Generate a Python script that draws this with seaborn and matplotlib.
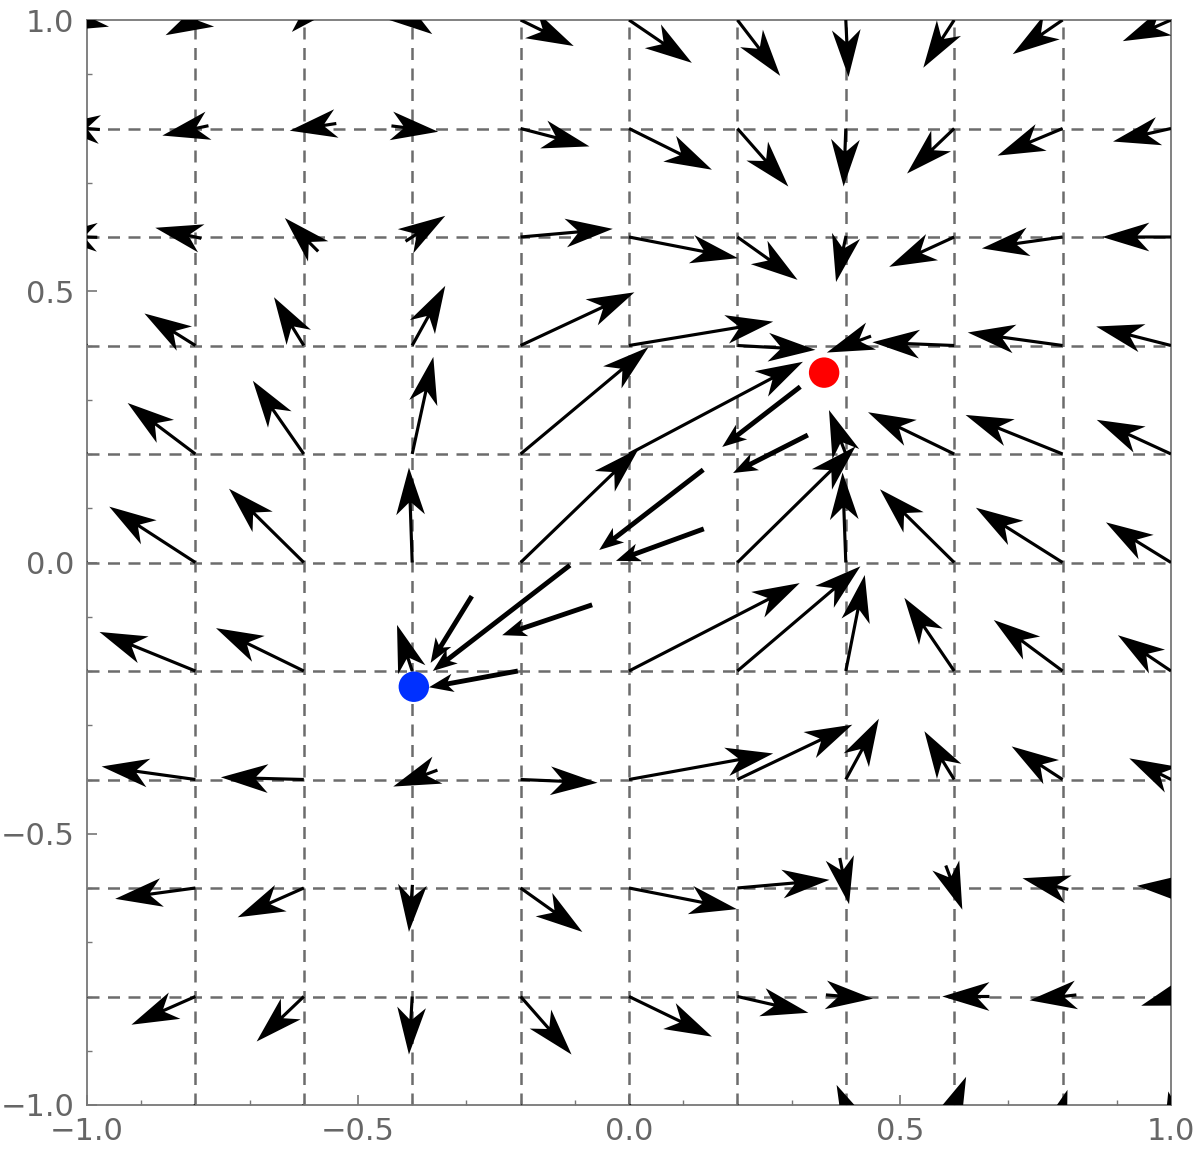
import numpy as np
import pandas as pd
import matplotlib
matplotlib.use('Agg')
import matplotlib.pyplot as plt
import seaborn as sns

sns.set_style('white')
plt.rcParams['font.family'] = ['DejaVu Sans']

# sample positions of the vector field
grid_x = [-1.0, -0.8, -0.6, -0.4, -0.2, 0.0, 0.2, 0.4, 0.6, 0.8, 1.0]
grid_y = [1.0, 0.8, 0.6, 0.4, 0.2, 0.0, -0.2, -0.4, -0.6, -0.8, -1.0]   # rows, top to bottom

# arrow components (rows follow grid_y, columns grid_x)
u_rows = [
    [-0.050, -0.055, -0.022, 0.037, 0.098, 0.116, 0.079, 0.005, -0.057, -0.092, -0.089],
    [-0.063, -0.061, -0.026, 0.048, 0.127, 0.153, 0.094, -0.004, -0.087, -0.120, -0.107],
    [-0.068, -0.074, -0.035, 0.061, 0.170, 0.201, 0.111, -0.018, -0.120, -0.149, -0.127],
    [-0.090, -0.094, -0.055, 0.061, 0.210, 0.266, 0.144, -0.035, -0.151, -0.175, -0.138],
    [-0.130, -0.125, -0.094, 0.039, 0.236, 0.321, 0.000, -0.031, -0.159, -0.179, -0.137],
    [-0.150, -0.159, -0.138, -0.006, 0.218, 0.000, 0.218, -0.006, -0.137, -0.160, -0.120],
    [-0.180, -0.177, -0.162, -0.028, 0.000, 0.315, 0.227, 0.035, -0.092, -0.127, -0.098],
    [-0.170, -0.173, -0.153, -0.035, 0.142, 0.266, 0.212, 0.061, -0.055, -0.094, -0.077],
    [-0.150, -0.148, -0.122, -0.006, 0.114, 0.199, 0.170, 0.006, 0.015, -0.074, -0.063],
    [-0.120, -0.118, -0.087, -0.006, 0.094, 0.153, 0.131, 0.050, -0.022, -0.061, -0.055],
    [-0.090, -0.080, -0.060, 0.000, 0.080, 0.120, 0.040, -0.017, 0.022, 0.009, -0.005],
]
v_rows = [
    [-0.020, -0.028, -0.022, -0.026, -0.048, -0.079, -0.103, -0.105, -0.088, -0.063, -0.039],
    [0.005, -0.013, -0.004, -0.006, -0.033, -0.076, -0.107, -0.107, -0.083, -0.050, -0.024],
    [0.002, 0.017, 0.035, 0.039, 0.015, -0.039, -0.079, -0.083, -0.055, -0.021, 0.000],
    [0.050, 0.059, 0.089, 0.110, 0.098, 0.044, -0.008, -0.013, 0.006, 0.024, 0.035],
    [0.080, 0.094, 0.135, 0.179, 0.197, 0.170, 0.000, 0.081, 0.077, 0.072, 0.063],
    [0.070, 0.103, 0.136, 0.175, 0.210, 0.000, 0.214, 0.166, 0.135, 0.101, 0.074],
    [0.070, 0.072, 0.079, 0.085, 0.000, 0.162, 0.193, 0.177, 0.135, 0.094, 0.066],
    [0.020, 0.024, 0.004, -0.013, -0.006, 0.048, 0.101, 0.112, 0.089, 0.061, 0.039],
    [-0.020, -0.020, -0.054, -0.081, -0.081, -0.039, 0.015, -0.030, -0.040, 0.018, 0.004],
    [-0.050, -0.052, -0.083, -0.107, -0.107, -0.074, -0.030, -0.004, 0.000, -0.007, -0.017],
    [-0.080, -0.100, -0.120, -0.120, -0.120, -0.100, -0.100, 0.037, 0.052, 0.028, 0.025],
]

# heavier arrows between the two points (tail x, tail y, dx, dy)
heavy_x = [0.316, 0.330, 0.137, 0.138, -0.109, -0.290, -0.068, -0.205]
heavy_y = [0.324, 0.235, 0.171, 0.062, -0.005, -0.062, -0.078, -0.200]
heavy_u = [-0.144, -0.138, -0.192, -0.162, -0.253, -0.076, -0.166, -0.164]
heavy_v = [-0.111, -0.070, -0.148, -0.059, -0.195, -0.123, -0.056, -0.030]

# the two marked points
pts = pd.DataFrame({'x': [0.36, -0.397], 'y': [0.35, -0.229], 'name': ['red', 'blue']})
pt_colors = {'red': '#ff0000', 'blue': '#0030ff'}

tick_vals = [-1.0, -0.5, 0.0, 0.5, 1.0]
tick_text = ['\u22121.0', '\u22120.5', '0.0', '0.5', '1.0']
line_vals = [-0.8, -0.6, -0.4, -0.2, 0.0, 0.2, 0.4, 0.6, 0.8]

HL = 0.087   # head length (data units)
HW = 0.053   # head width

fig, ax = plt.subplots(figsize=(12, 11.58), dpi=100)
fig.subplots_adjust(left=87/1200, right=1171/1200, top=1-20/1158, bottom=1-1105/1158)

gcol = '#6c6c6c'
for g in line_vals:
    ax.axvline(g, color=gcol, lw=1.8, dashes=(4.8, 3.4), zorder=1)
    ax.axhline(g, color=gcol, lw=1.8, dashes=(4.8, 3.4), zorder=1)

for i, yv in enumerate(grid_y):
    for j, xv in enumerate(grid_x):
        du, dv = u_rows[i][j], v_rows[i][j]
        L = np.hypot(du, dv)
        if L == 0:
            continue
        # short vectors: the head keeps its size and reaches back past the tail
        x0, y0 = xv, yv
        if L < HL:
            x0 = xv + du - du / L * HL
            y0 = yv + dv - dv / L * HL
        ax.arrow(x0, y0, xv + du - x0, yv + dv - y0, width=0.0058, head_width=HW,
                 head_length=HL, overhang=0.25, length_includes_head=True,
                 fc='black', ec='none', lw=0, zorder=3)

for xv, yv, du, dv in zip(heavy_x, heavy_y, heavy_u, heavy_v):
    ax.arrow(xv, yv, du, dv, width=0.009, head_width=0.034, head_length=0.045,
             overhang=0.2, length_includes_head=True, fc='black', ec='none',
             lw=0, zorder=3)

sns.scatterplot(data=pts, x='x', y='y', hue='name', palette=pt_colors, s=480,
                edgecolor='none', legend=False, ax=ax, zorder=5)

ax.set_xlim(-1, 1)
ax.set_ylim(-1, 1)
ax.set_xlabel('')
ax.set_ylabel('')
ax.set_xticks(tick_vals)
ax.set_xticklabels(tick_text)
ax.set_yticks(tick_vals)
ax.set_yticklabels(tick_text)
ax.set_xticks(np.arange(-1, 1.01, 0.1), minor=True)
ax.set_yticks(np.arange(-1, 1.01, 0.1), minor=True)
ax.tick_params(which='major', direction='in', length=7, width=1.2, color='#777777',
               labelsize=22, labelcolor='#666666', pad=9,
               bottom=True, left=True, top=False, right=False)
ax.tick_params(which='minor', direction='in', length=3.5, width=1, color='#777777',
               bottom=True, left=True, top=False, right=False)
for s in ax.spines.values():
    s.set_color('#777777')
    s.set_linewidth(1.3)

fig.savefig('out.png', dpi=100)
